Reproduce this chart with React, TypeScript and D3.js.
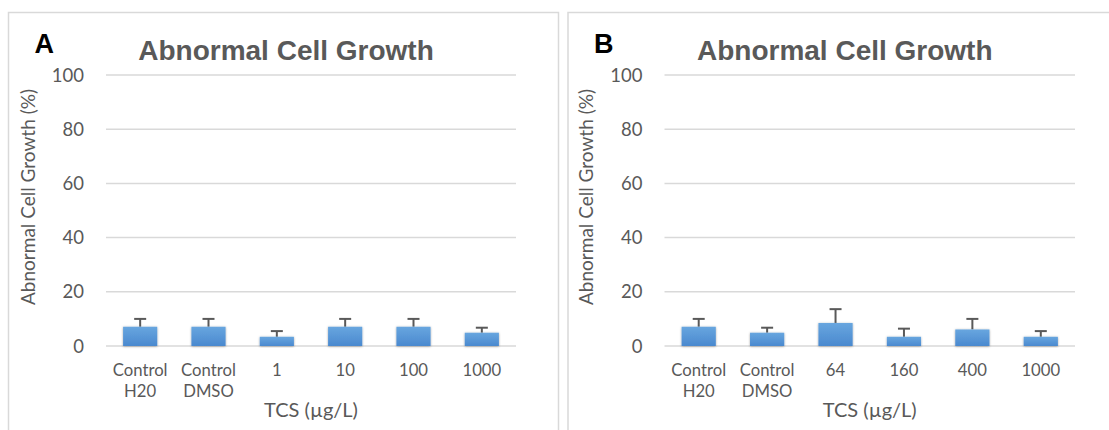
import React from "react";
import * as d3 from "d3";

const categoriesA = ["Control\nH20", "Control\nDMSO", "1", "10", "100", "1000"];
const valuesA = [7.1, 7.1, 3.4, 7.1, 7.1, 4.9];
const errorsA = [2.9, 2.9, 2.1, 2.9, 2.9, 1.85];

const categoriesB = ["Control\nH20", "Control\nDMSO", "64", "160", "400", "1000"];
const valuesB = [7.1, 4.9, 8.5, 3.4, 6.1, 3.4];
const errorsB = [2.9, 1.85, 5.1, 3.0, 3.9, 2.1];

const yTicks = [0, 20, 40, 60, 80, 100];
const chartTitle = "Abnormal Cell Growth";
const yTitle = "Abnormal Cell Growth (%)";
const xTitle = "TCS (µg/L)";

const W = 1109;
const H = 430;
const TEXT = "#595959";
const GRID = "#d9d9d9";
const SANS = "Lato, 'Open Sans', sans-serif";

type PanelProps = {
  letter: string;
  boxX: number;
  boxW: number;
  plotX0: number;
  plotX1: number;
  cats: string[];
  vals: number[];
  errs: number[];
};

function Panel({ letter, boxX, boxW, plotX0, plotX1, cats, vals, errs }: PanelProps) {
  const y = d3.scaleLinear().domain([0, 100]).range([346, 75]);
  const x = d3.scaleBand<string>().domain(cats).range([plotX0, plotX1]).paddingInner(0.5).paddingOuter(0.25);
  const cx = (plotX0 + plotX1) / 2;
  return (
    <g>
      <rect x={boxX} y={12.5} width={boxW} height={H + 20} fill="#fff" stroke={GRID} strokeWidth={1.5} />
      <text x={boxX + 26} y={53} fontFamily="'Liberation Sans', Arial, sans-serif" fontWeight="bold" fontSize={27} fill="#000">
        {letter}
      </text>
      <text x={cx - 25} y={59.5} textAnchor="middle" fontFamily="'Liberation Sans', Arial, sans-serif" fontWeight="bold" fontSize={28} fill={TEXT}>
        {chartTitle}
      </text>
      {yTicks.map((t) => (
        <g key={t}>
          <line x1={plotX0} x2={plotX1} y1={y(t)} y2={y(t)} stroke={GRID} strokeWidth={1.5} />
          <text x={plotX0 - 22} y={y(t)} dy="0.36em" textAnchor="end" fontFamily={SANS} fontSize={18.5} fill={TEXT}>
            {t}
          </text>
        </g>
      ))}
      {cats.map((c, i) => {
        const bx = x(c) as number;
        const bw = x.bandwidth();
        const top = y(vals[i]);
        const errTop = y(vals[i] + errs[i]);
        const mid = bx + bw / 2;
        return (
          <g key={c}>
            <line x1={mid} x2={mid} y1={top} y2={errTop} stroke={TEXT} strokeWidth={2} />
            <line x1={mid - 6} x2={mid + 6} y1={errTop} y2={errTop} stroke={TEXT} strokeWidth={2} />
            <rect x={bx} y={top} width={bw} height={y(0) - top} fill="url(#barGrad)" filter="url(#barShadow)" />
          </g>
        );
      })}
      {cats.map((c) => {
        const mid = (x(c) as number) + x.bandwidth() / 2;
        const lines = c.split("\n");
        return (
          <text key={"l" + c} x={mid} y={376} textAnchor="middle" fontFamily={SANS} fontSize={16.7} fill={TEXT}>
            {lines.map((ln, j) => (
              <tspan key={j} x={mid} dy={j === 0 ? 0 : 21}>
                {ln}
              </tspan>
            ))}
          </text>
        );
      })}
      <text x={cx} y={416.5} textAnchor="middle" fontFamily={SANS} fontSize={20} fill={TEXT}>
        {xTitle}
      </text>
      <text
        transform={`translate(${plotX0 - 78},197) rotate(-90)`}
        textAnchor="middle"
        dy="0.35em"
        fontFamily={SANS}
        fontSize={19}
        fill={TEXT}
      >
        {yTitle}
      </text>
    </g>
  );
}

export default function App() {
  return (
    <svg width={W} height={H} style={{ position: "absolute", left: 0, top: 0, background: "#fff" }}>
      <defs>
        <linearGradient id="barGrad" x1="0" y1="0" x2="0" y2="1">
          <stop offset="0%" stopColor="#68a6df" />
          <stop offset="100%" stopColor="#4a89cf" />
        </linearGradient>
        <filter id="barShadow" x="-20%" y="-20%" width="140%" height="140%">
          <feDropShadow dx="0" dy="0.5" stdDeviation="1.3" floodColor="#000" floodOpacity="0.35" />
        </filter>
      </defs>
      <rect x={0} y={0} width={W} height={H} fill="#fff" />
      <Panel letter="A" boxX={8.5} boxW={550} plotX0={106} plotX1={516} cats={categoriesA} vals={valuesA} errs={errorsA} />
      <Panel letter="B" boxX={568} boxW={560} plotX0={664.5} plotX1={1075} cats={categoriesB} vals={valuesB} errs={errorsB} />
    </svg>
  );
}
